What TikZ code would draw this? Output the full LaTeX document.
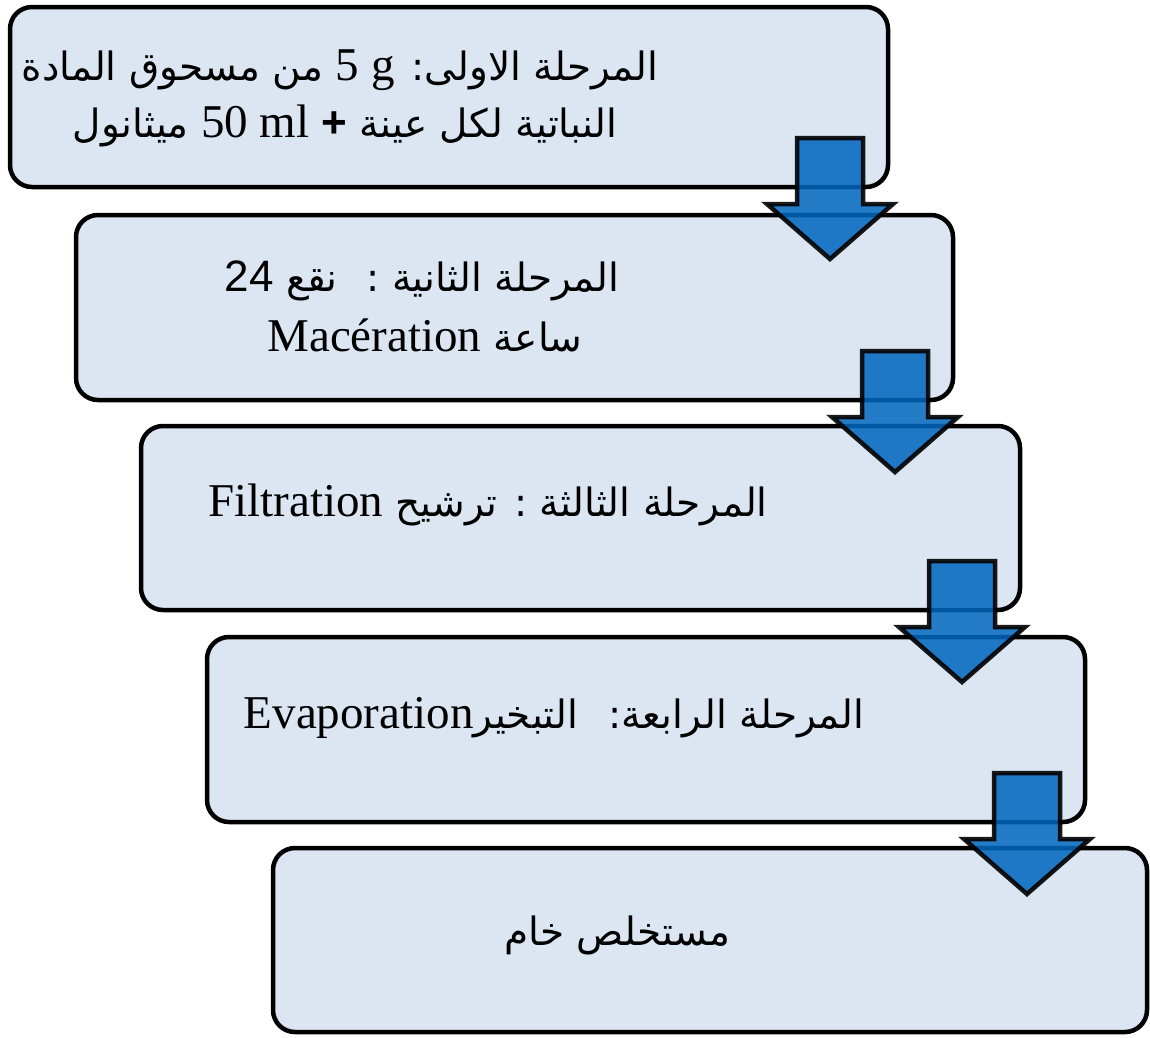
\documentclass[tikz,border=0pt]{standalone}
\usepackage{fontspec}
\setmainfont{Liberation Serif}
\newfontfamily\arabicfnt[Script=Arabic]{DejaVu Sans}
\newfontfamily\sansfnt{Liberation Sans}
\TeXXeTstate=1
\usetikzlibrary{calc}

\definecolor{boxfill}{RGB}{220,230,242}
\definecolor{arrowblue}{RGB}{0,103,190}

\newcommand\artxt[1]{{\arabicfnt\fontsize{39}{46}\selectfont\beginR #1\endR}}
\newcommand\lttxt[1]{\beginL{\rmfamily\fontsize{47}{52}\selectfont #1}\endL{}}
\newcommand\sftxt[1]{\beginL{\sansfnt\fontsize{44}{52}\selectfont #1}\endL{}}

\tikzset{
  stagebox/.style={draw=black, line width=4.5pt, fill=boxfill, rounded corners=22pt,
    outer sep=0pt, inner sep=0pt, anchor=north west},
  txt/.style={anchor=base, inner sep=0pt, outer sep=0pt, text=black},
  flowarrow/.style={fill=arrowblue, fill opacity=0.86, draw=black, draw opacity=0.9,
    line width=4.5pt, line join=miter},
}

\newcommand\blockarrow[2]{%
  \coordinate (#2) at ($(#1.south east)+(-58,-49)$);
  \draw[flowarrow] ($(#2)+(-33,0)$) -- ++(66,0) -- ++(0,66) -- ++(30,0)
    -- ($(#2)+(0,121)$) -- ($(#2)+(-63,66)$) -- ++(30,0) -- cycle;
}

\begin{document}
\begin{tikzpicture}[x=1pt,y=-1pt]
\useasboundingbox (0,0) rectangle (1150,1037);

% boxes
\node[stagebox, minimum width=878pt, minimum height=180pt] (b1) at (10,7) {};
\node[stagebox, minimum width=877pt, minimum height=185pt] (b2) at (76,215) {};
\node[stagebox, minimum width=879pt, minimum height=184pt] (b3) at (141,426) {};
\node[stagebox, minimum width=878pt, minimum height=185pt] (b4) at (207,637) {};
\node[stagebox, minimum width=874pt, minimum height=184pt] (b5) at (273,848) {};

% texts
\node[txt] (t1a) at (340,80) {\artxt{\textcolor{white}{ا}لمرحلة الاولى\kern0pt: \lttxt{g} \lttxt{5} من مسحوق المادة}};
\node[txt] (t1b) at (345,137) {\artxt{النباتية لكل عينة \sftxt{\bfseries +} \lttxt{50 ml} ميثانول}};
\node[txt] (t2a) at (422,291) {\artxt{المرحلة الثانية : \ نقع \sftxt{24}}};
\node[txt] (t2b) at (425,351) {\artxt{ساعة \lttxt{Macération}}};
\node[txt] (t3) at (488,516) {\artxt{المرحلة الثالثة : ترشيح \lttxt{Filtration}}};
\node[txt] (t4) at (554,728) {\artxt{المرحلة الرابعة\kern0pt:\hspace{30pt}التبخير\lttxt{Evaporation}}};
\node[txt] (t5) at (617,945) {\artxt{مستخلص خام}};

% arrows
\blockarrow{b1}{a1}
\blockarrow{b2}{a2}
\blockarrow{b3}{a3}
\blockarrow{b4}{a4}
\end{tikzpicture}
\end{document}
